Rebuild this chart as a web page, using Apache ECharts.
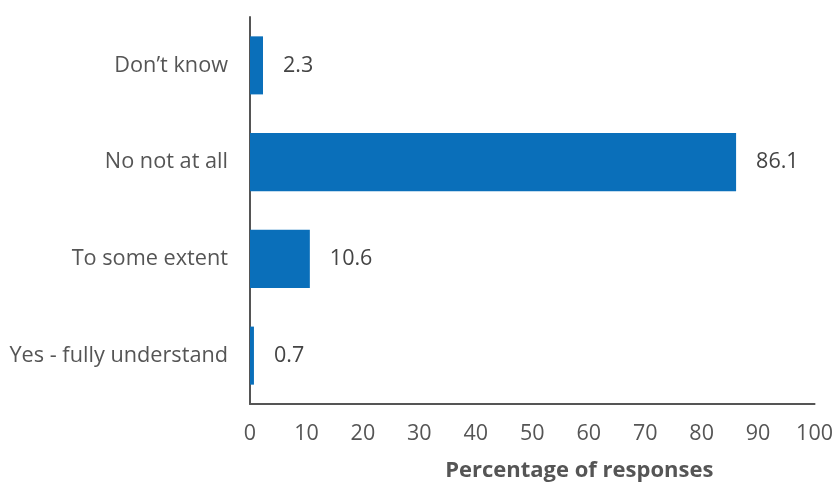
<!DOCTYPE html>
<html><head><meta charset="utf-8">
<script src="https://cdn.jsdelivr.net/npm/echarts@6/dist/echarts.min.js"></script>
<style>html,body{margin:0;padding:0;background:#fff}#c{width:836px;height:487px}</style>
</head><body><div id="c"></div>
<script>
const categories = ["Yes - fully understand", "To some extent", "No not at all", "Don\u2019t know"];
const values = [0.7, 10.6, 86.1, 2.3];
const xTicks = [0, 10, 20, 30, 40, 50, 60, 70, 80, 90, 100];
const axisTitle = "Percentage of responses";

const chart = echarts.init(document.getElementById('c'));
const font = "'Open Sans', sans-serif";
chart.setOption({
  animation: false,
  grid: { left: 250, right: 19, top: 17, bottom: 81, containLabel: false },
  xAxis: {
    type: 'value', min: xTicks[0], max: xTicks[xTicks.length - 1], interval: 10,
    axisLine: { show: true, lineStyle: { color: '#555', width: 2 } },
    axisTick: { show: false },
    splitLine: { show: false },
    axisLabel: { color: '#555', fontSize: 21.5, fontFamily: font, margin: 19 },
    name: axisTitle, nameLocation: 'middle', nameGap: 56,
    nameTextStyle: { color: '#555', fontSize: 22, fontWeight: 'bold', fontFamily: font, padding: [0, 0, 0, 94] }
  },
  yAxis: {
    type: 'category', data: categories,
    axisLine: { show: true, lineStyle: { color: '#555', width: 2 } },
    axisTick: { show: false },
    axisLabel: { color: '#555', fontSize: 21.7, fontFamily: font, margin: 22 }
  },
  series: [{
    type: 'bar', data: values, barWidth: '60%',
    itemStyle: { color: '#0a6fba' },
    label: { show: true, position: 'right', distance: 20, color: '#444', fontSize: 21.5, fontFamily: font }
  }]
});
</script></body></html>
